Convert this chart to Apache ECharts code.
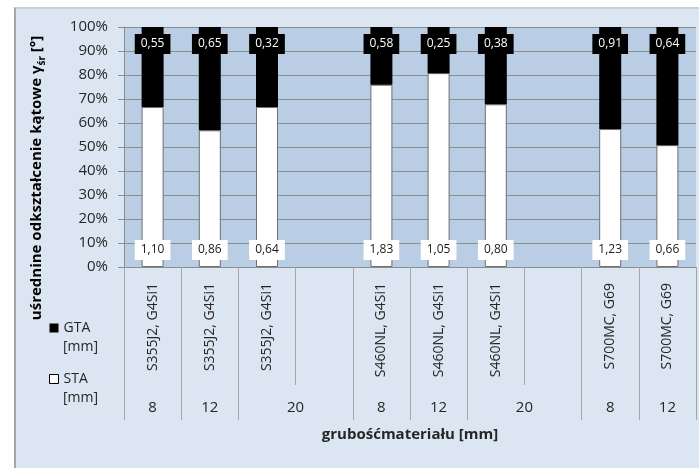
<!DOCTYPE html>
<html>
<head>
<meta charset="utf-8">
<script src="https://cdn.jsdelivr.net/npm/echarts@6/dist/echarts.min.js"></script>
<style>
  html, body { margin: 0; padding: 0; background: #ffffff; }
  #panel { position: absolute; left: 14px; top: 7px; width: 700px; height: 470px;
           background: #dce6f2; border-left: 2px solid #a6a6a6; border-top: 2px solid #c8d0da; box-sizing: border-box; }
  #chart { position: absolute; left: 0; top: 0; width: 699px; height: 468px; }
</style>
</head>
<body>
<div id="panel"></div>
<div id="chart"></div>
<script>
// Material / filler wire per slot (empty slots keep the 20 mm groups two slots wide)
const materials = [
  'S355J2, G4Si1', 'S355J2, G4Si1', 'S355J2, G4Si1', '',
  'S460NL, G4Si1', 'S460NL, G4Si1', 'S460NL, G4Si1', '',
  'S700MC, G69', 'S700MC, G69'
];
// Plate thickness labels on a half-slot grid (21 points, boundaries on even indices)
const thicknessLabels = [
  '', '8', '', '12', '', '', '20', '', '', '8', '', '12', '', '', '20', '', '', '8', '', '12', ''
];
// Group boundaries on the half-slot grid
const groupBoundaries = [0, 2, 4, 8, 10, 12, 16, 18, 20];

// Average angular distortion [mm]
const staValues = [1.10, 0.86, 0.64, null, 1.83, 1.05, 0.80, null, 1.23, 0.66];
const gtaValues = [0.55, 0.65, 0.32, null, 0.58, 0.25, 0.38, null, 0.91, 0.64];

const yTicks = [0, 10, 20, 30, 40, 50, 60, 70, 80, 90, 100];

const fmt = v => v.toFixed(2).replace('.', ',');
const FONT = '"Open Sans", "Noto Sans", sans-serif';

// Shares of the 100% stacked bar
function share(own, other) {
  return own.map((v, i) => v == null ? { value: null } : { value: 100 * v / (v + other[i]), raw: v });
}
const staData = share(staValues, gtaValues);
const gtaData = share(gtaValues, staValues);

const chart = echarts.init(document.getElementById('chart'));
chart.setOption({
  backgroundColor: 'transparent',
  textStyle: { fontFamily: FONT },
  animation: false,
  grid: { left: 124, top: 27, right: 3, bottom: 201, show: true, backgroundColor: '#b9cde5', borderWidth: 0 },
  legend: {
    orient: 'vertical', left: 44, top: 316,
    itemWidth: 9, itemHeight: 9, itemGap: 37, icon: 'rect',
    textStyle: { fontSize: 14, color: '#262626', fontFamily: FONT },
    data: [
      { name: 'GTA', itemStyle: { color: '#000000' } },
      { name: 'STA', itemStyle: { color: '#ffffff', borderColor: '#000000', borderWidth: 1 } }
    ]
  },
  graphic: [
    { type: 'text', left: 63, top: 340, style: { text: '[mm]', fontSize: 14, fill: '#262626', fontFamily: FONT } },
    { type: 'text', left: 63, top: 391, style: { text: '[mm]', fontSize: 14, fill: '#262626', fontFamily: FONT } },
    // value axis title, written bottom-to-top
    {
      type: 'text', x: 37, y: 178, rotation: Math.PI / 2,
      style: {
        text: '{a|uśrednine odkształcenie kątowe γ}{s|śr}{a| [°]}',
        align: 'center', verticalAlign: 'middle',
        rich: {
          a: { fontSize: 15, fontWeight: 'bold', fill: '#000', fontFamily: FONT, lineHeight: 20 },
          s: { fontSize: 10, fontWeight: 'bold', fill: '#000', fontFamily: FONT, verticalAlign: 'bottom', lineHeight: 15 }
        }
      }
    }
  ],
  xAxis: [
    {
      type: 'category', data: materials, position: 'bottom',
      axisLine: { show: true, lineStyle: { color: '#8c8c8c', width: 1 } },
      axisTick: { show: true, interval: 0, length: 118, lineStyle: { color: '#a6a6a6' } },
      axisLabel: { interval: 0, rotate: 90, margin: 16, fontSize: 14, color: '#262626', fontFamily: FONT },
      splitLine: { show: false }
    },
    {
      type: 'category', data: thicknessLabels, position: 'bottom', boundaryGap: false,
      axisLine: { show: false },
      axisTick: { show: true, length: 153, lineStyle: { color: '#a6a6a6' },
                  interval: (idx) => groupBoundaries.includes(idx) },
      axisLabel: { interval: 0, margin: 133, fontSize: 15, color: '#262626', fontFamily: FONT },
      splitLine: { show: false },
      name: 'grubośćmateriału [mm]', nameLocation: 'middle', nameGap: 160,
      nameTextStyle: { fontSize: 15, fontWeight: 'bold', color: '#262626', fontFamily: FONT }
    }
  ],
  yAxis: {
    type: 'value', min: yTicks[0], max: yTicks[yTicks.length - 1], interval: 10,
    axisLine: { show: true, lineStyle: { color: '#8c8c8c' } },
    axisTick: { show: true, length: 6, lineStyle: { color: '#8c8c8c' } },
    axisLabel: { formatter: '{value}%', fontSize: 15, color: '#262626', margin: 16, fontFamily: FONT },
    splitLine: { show: true, lineStyle: { color: '#8c8c8c', width: 1 } }
  },
  series: [
    {
      name: 'STA', type: 'bar', stack: 'share', barWidth: 22, data: staData,
      itemStyle: { color: '#ffffff', borderColor: '#6f6f6f', borderWidth: 1 },
      label: {
        show: true, position: 'insideBottom', distance: 7,
        formatter: p => p.data.raw == null ? '' : fmt(p.data.raw),
        backgroundColor: '#ffffff', color: '#1a1a1a', fontSize: 12, fontFamily: FONT,
        padding: [4, 6, 4, 6]
      }
    },
    {
      name: 'GTA', type: 'bar', stack: 'share', barWidth: 22, data: gtaData,
      itemStyle: { color: '#000000' },
      label: {
        show: true, position: 'insideTop', distance: 7,
        formatter: p => p.data.raw == null ? '' : fmt(p.data.raw),
        backgroundColor: '#000000', color: '#ffffff', fontSize: 12, fontFamily: FONT,
        padding: [4, 6, 4, 6]
      }
    }
  ]
});
</script>
</body>
</html>
